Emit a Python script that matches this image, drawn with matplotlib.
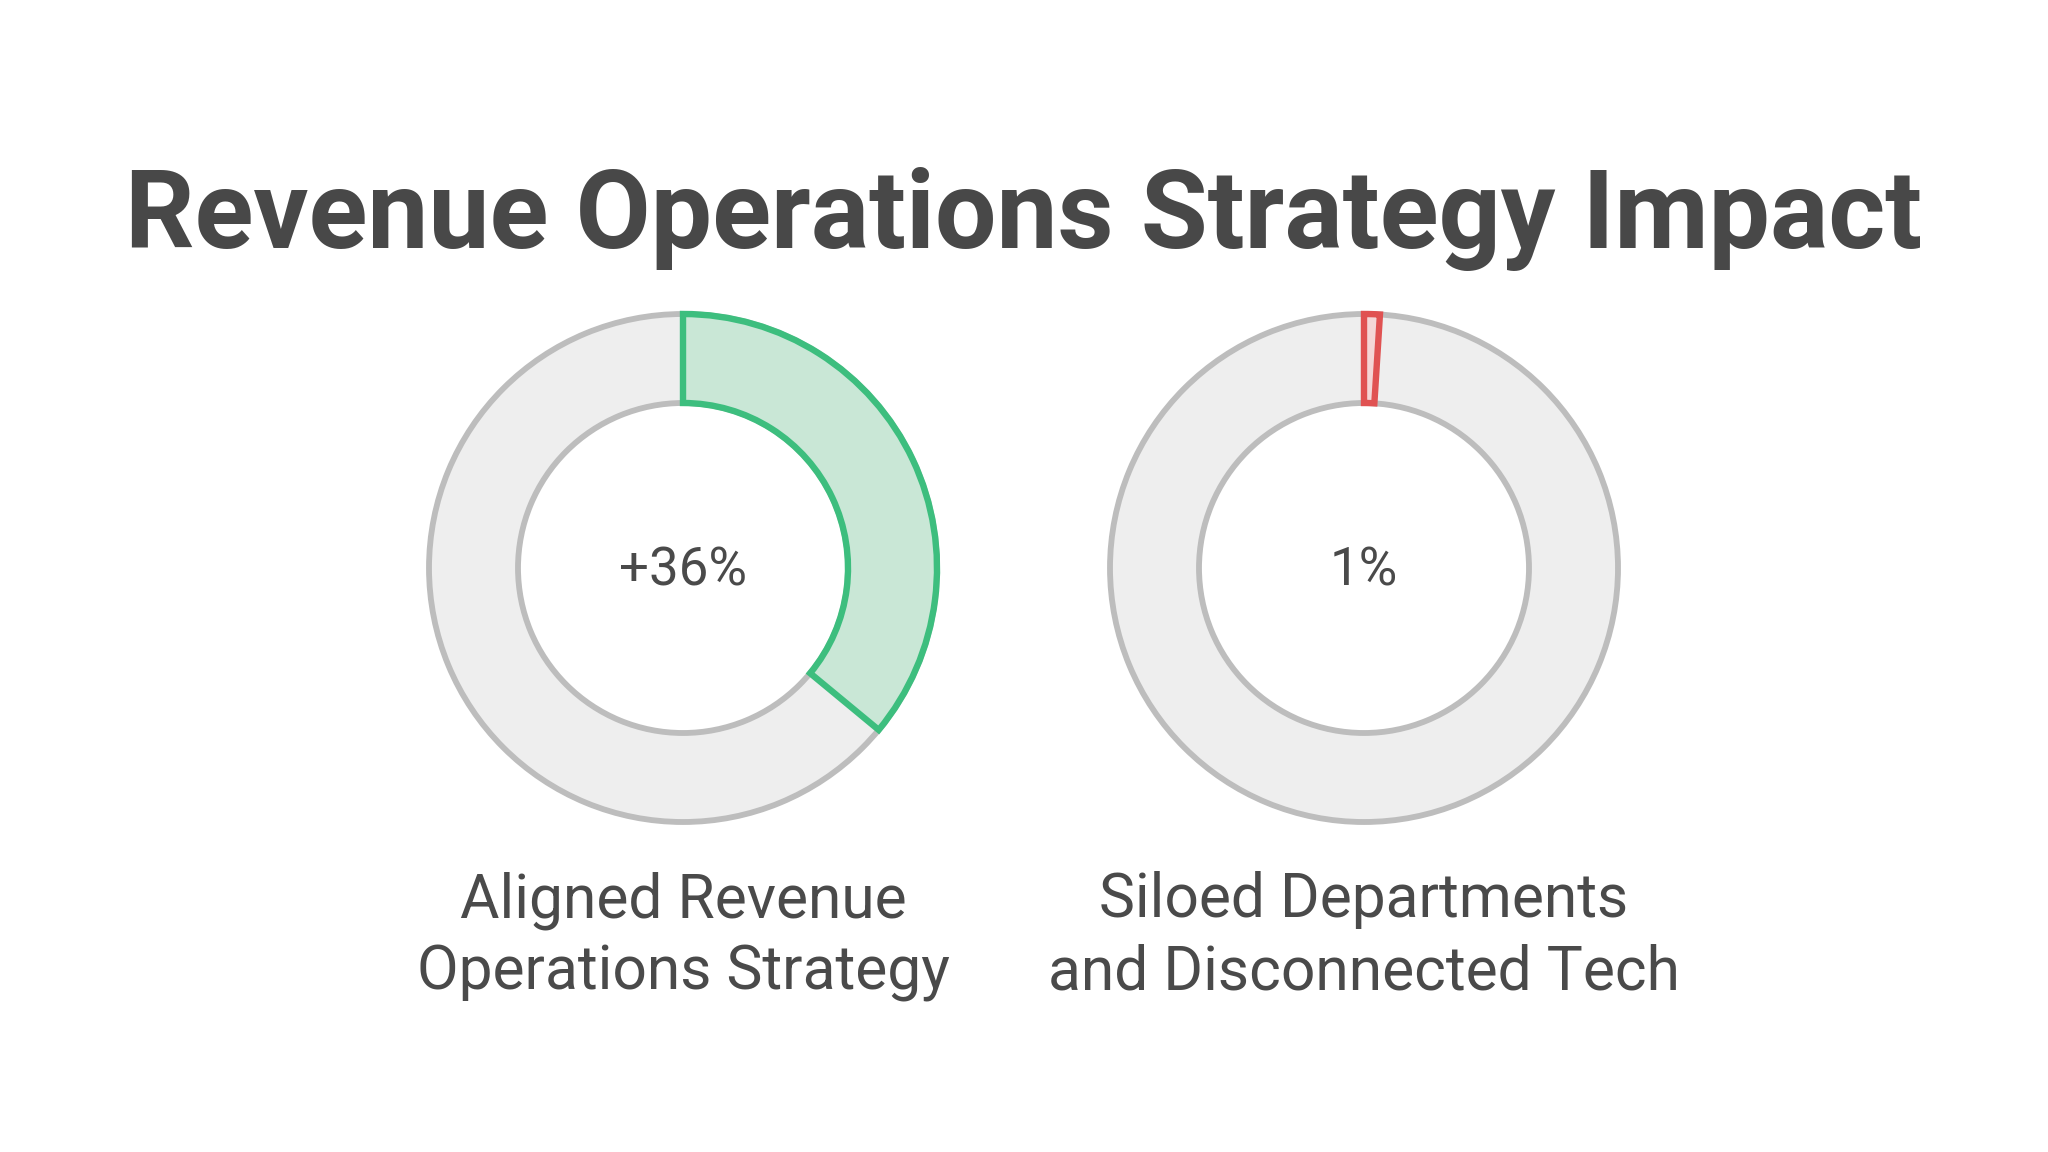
import matplotlib.pyplot as plt

plt.rcParams["font.family"] = ["Roboto", "DejaVu Sans"]

# データ
title = "Revenue Operations Strategy Impact"
categories = ["Aligned Revenue\nOperations Strategy", "Siloed Departments\nand Disconnected Tech"]
values = [36, 1]
value_labels = ["+36%", "1%"]
edge_colors = ["#3dbe7e", "#e05252"]
fill_colors = ["#c9e7d6", "#f4d6d6"]

# レイアウト (ピクセル単位, 2048x1152)
W, H = 2048, 1152
centers_x = [683, 1364]
center_y = H - 568
r_out, r_in = 254, 165
ring_grey = "#eeeeee"
ring_edge = "#bdbdbd"
text_color = "#4a4a4a"

fig = plt.figure(figsize=(W / 100, H / 100), dpi=100)
ax = fig.add_axes([0, 0, 1, 1])

ax.text(W / 2, H - 248, title, ha="center", va="baseline",
        fontsize=78.5, fontweight="bold", color="#484848")

for cx, val, lab, cat, ec, fc in zip(centers_x, values, value_labels,
                                      categories, edge_colors, fill_colors):
    # 背景リング
    ax.pie([100], colors=[ring_grey], radius=r_out, center=(cx, center_y),
           startangle=90, frame=True,
           wedgeprops=dict(width=r_out - r_in, edgecolor=ring_edge, linewidth=4.2))
    # 値のウェッジ
    wedges, _ = ax.pie([val, 100 - val], colors=[fc, "none"], radius=r_out,
                       center=(cx, center_y), startangle=90, counterclock=False,
                       frame=True,
                       wedgeprops=dict(width=r_out - r_in, linewidth=4.6))
    wedges[0].set_edgecolor(ec)
    wedges[0].set_zorder(3)
    wedges[1].set_edgecolor("none")

    ax.text(cx, H - 585, lab, ha="center", va="baseline",
            fontsize=38, color=text_color)
    for i, line in enumerate(cat.split("\n")):
        ax.text(cx, H - 917 - 72 * i, line, ha="center", va="baseline",
                fontsize=43.6, color=text_color)

ax.set_xlim(0, W)
ax.set_ylim(0, H)
ax.set_aspect("equal")
ax.axis("off")

fig.savefig("out.png", dpi=100, facecolor="white")
